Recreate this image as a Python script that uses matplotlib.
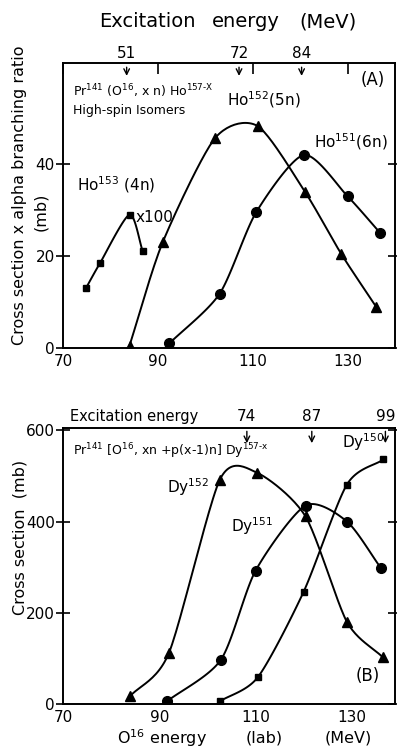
import numpy as np
import matplotlib
matplotlib.use("Agg")
import matplotlib.pyplot as plt

plt.rcParams['font.family'] = 'DejaVu Sans'
plt.rcParams['mathtext.default'] = 'regular'

# panel A : Pr141(O16,xn)Ho157-x, high-spin isomers
ho153_e = [74.8, 77.8, 84.0, 86.8]
ho153_s = [13.0, 18.5, 29.0, 21.0]
ho152_e = [84.0, 91.0, 102.0, 111.0, 121.0, 128.7, 136.0]
ho152_s = [0.5, 23.0, 45.6, 48.3, 34.0, 20.4, 9.0]
ho151_e = [92.4, 103.0, 110.7, 120.8, 130.0, 136.9]
ho151_s = [1.0, 11.8, 29.5, 42.0, 33.0, 25.0]
exc_a_lab = ["51", "72", "84"]
exc_a_pos = [83.4, 107.1, 120.3]

# panel B : Pr141[O16,xn+p(x-1)n]Dy157-x
dy152_e = [83.9, 92.0, 102.6, 110.3, 120.4, 129.0, 136.4]
dy152_s = [17.0, 112.0, 492.0, 507.0, 411.0, 180.0, 103.0]
dy151_e = [91.6, 102.8, 110.0, 120.4, 129.0, 136.0]
dy151_s = [6.0, 97.0, 292.0, 435.0, 400.0, 299.0]
dy150_e = [102.6, 110.5, 120.0, 129.0, 136.6]
dy150_s = [6.0, 59.0, 246.0, 481.0, 536.0]
exc_b_lab = ["74", "87", "99"]
exc_b_pos = [108.2, 121.7, 137.0]


def smooth(x, y, n=25, k=0.38):
    # cardinal curve through the points, only for drawing the line
    x = np.asarray(x, float); y = np.asarray(y, float)
    px = np.concatenate([[2*x[0]-x[1]], x, [2*x[-1]-x[-2]]])
    py = np.concatenate([[2*y[0]-y[1]], y, [2*y[-1]-y[-2]]])
    xs = []; ys = []
    t = np.linspace(0, 1, n)
    h00 = 2*t**3 - 3*t**2 + 1; h10 = t**3 - 2*t**2 + t
    h01 = -2*t**3 + 3*t**2; h11 = t**3 - t**2
    for i in range(1, len(px)-2):
        for p, out in ((px, xs), (py, ys)):
            m1 = k*(p[i+1]-p[i-1]); m2 = k*(p[i+2]-p[i])
            out.append(h00*p[i] + h10*m1 + h01*p[i+1] + h11*m2)
    return np.concatenate(xs), np.concatenate(ys)


def series(ax, x, y, mk, ms):
    sx, sy = smooth(x, y)
    ax.plot(sx, sy, color='k', lw=1.4, zorder=2)
    ax.plot(x, y, mk, color='k', ms=ms, ls='none', zorder=3)


fig = plt.figure(figsize=(3.97, 7.51), dpi=100)

# ---------------- panel A
ax = fig.add_axes([0.159, 0.5366, 0.836, 0.3795])
series(ax, ho153_e, ho153_s, 's', 5)
series(ax, ho152_e, ho152_s, '^', 7)
series(ax, ho151_e, ho151_s, 'o', 7)
ax.set_xlim(70, 140)
ax.set_ylim(0, 62)
ax.set_xticks([70, 90, 110, 130])
ax.set_yticks([0, 20, 40])
ax.tick_params(axis='y', direction='inout', length=10, right=True, labelsize=11, width=1.2, pad=1)
ax.tick_params(axis='x', direction='in', length=8, top=True, bottom=False, labelsize=11, width=1.2, pad=4)
for s in ax.spines.values():
    s.set_linewidth(1.4)
for lab, xp in zip(exc_a_lab, exc_a_pos):
    ax.annotate('', xy=(xp, 0.945), xycoords=('data', 'axes fraction'),
                xytext=(xp, 0.995), textcoords=('data', 'axes fraction'),
                arrowprops=dict(arrowstyle='->', color='k', lw=1.0))
    ax.text(xp, 1.006, lab, transform=ax.get_xaxis_transform(), ha='center', va='bottom', fontsize=11)
ax.text(0.03, 0.9, r'Pr$^{141}$ (O$^{16}$, x n) Ho$^{157\text{-}X}$', transform=ax.transAxes, fontsize=9, va='center')
ax.text(0.03, 0.835, 'High-spin Isomers', transform=ax.transAxes, fontsize=9, va='center')
ax.text(0.97, 0.94, '(A)', transform=ax.transAxes, fontsize=12, ha='right', va='center')
ax.text(104.5, 54.0, r'Ho$^{152}$(5n)', fontsize=11, va='center')
ax.text(123.0, 45.0, r'Ho$^{151}$(6n)', fontsize=11, va='center')
ax.text(73.0, 35.5, r'Ho$^{153}$ (4n)', fontsize=11, va='center')
ax.text(85.2, 28.5, 'x100', fontsize=11, va='center')

fig.text(147/397, 0.971, 'Excitation', ha='center', va='center', fontsize=14)
fig.text(246/397, 0.971, 'energy', ha='center', va='center', fontsize=14)
fig.text(328/397, 0.971, '(MeV)', ha='center', va='center', fontsize=14)
fig.text(0.05, 0.74, 'Cross section x alpha branching ratio', rotation=90, ha='center', va='center', fontsize=11.5)
fig.text(0.103, 0.718, '(mb)', rotation=90, ha='center', va='center', fontsize=11.5)

# ---------------- panel B
bx = fig.add_axes([0.159, 0.0626, 0.836, 0.3675])
series(bx, dy152_e, dy152_s, '^', 7)
series(bx, dy151_e, dy151_s, 'o', 7)
series(bx, dy150_e, dy150_s, 's', 5)
bx.set_xlim(70, 139)
bx.set_ylim(0, 605)
bx.set_xticks([70, 90, 110, 130])
bx.set_yticks([0, 200, 400, 600])
bx.tick_params(axis='y', direction='inout', length=10, right=True, labelsize=11, width=1.2, pad=1)
bx.tick_params(axis='x', length=0, labelsize=11, pad=4)
for s in bx.spines.values():
    s.set_linewidth(1.4)
for lab, xp in zip(exc_b_lab, exc_b_pos):
    bx.annotate('', xy=(xp, 0.935), xycoords=('data', 'axes fraction'),
                xytext=(xp, 0.998), textcoords=('data', 'axes fraction'),
                arrowprops=dict(arrowstyle='->', color='k', lw=1.0))
    bx.text(xp, 1.015, lab, transform=bx.get_xaxis_transform(), ha='center', va='bottom', fontsize=11)
bx.text(0.02, 1.015, 'Excitation energy', transform=bx.transAxes, ha='left', va='bottom', fontsize=10.5)
bx.text(0.03, 0.915, r'Pr$^{141}$ [O$^{16}$, xn +p(x-1)n] Dy$^{157\text{-}x}$', transform=bx.transAxes, fontsize=9, va='center')
bx.text(91.6, 475, r'Dy$^{152}$', fontsize=11, va='center')
bx.text(105.0, 390, r'Dy$^{151}$', fontsize=11, va='center')
bx.text(128.0, 575, r'Dy$^{150}$', fontsize=11, va='center')
bx.text(0.955, 0.1, '(B)', transform=bx.transAxes, fontsize=12, ha='right', va='center')

fig.text(0.05, 0.285, 'Cross section  (mb)', rotation=90, ha='center', va='center', fontsize=11.5)
fig.text(162/397, 0.017, r'O$^{16}$ energy', ha='center', va='center', fontsize=11.5)
fig.text(264/397, 0.017, '(lab)', ha='center', va='center', fontsize=11.5)
fig.text(348/397, 0.017, '(MeV)', ha='center', va='center', fontsize=11.5)

fig.savefig('out.png', dpi=100)
